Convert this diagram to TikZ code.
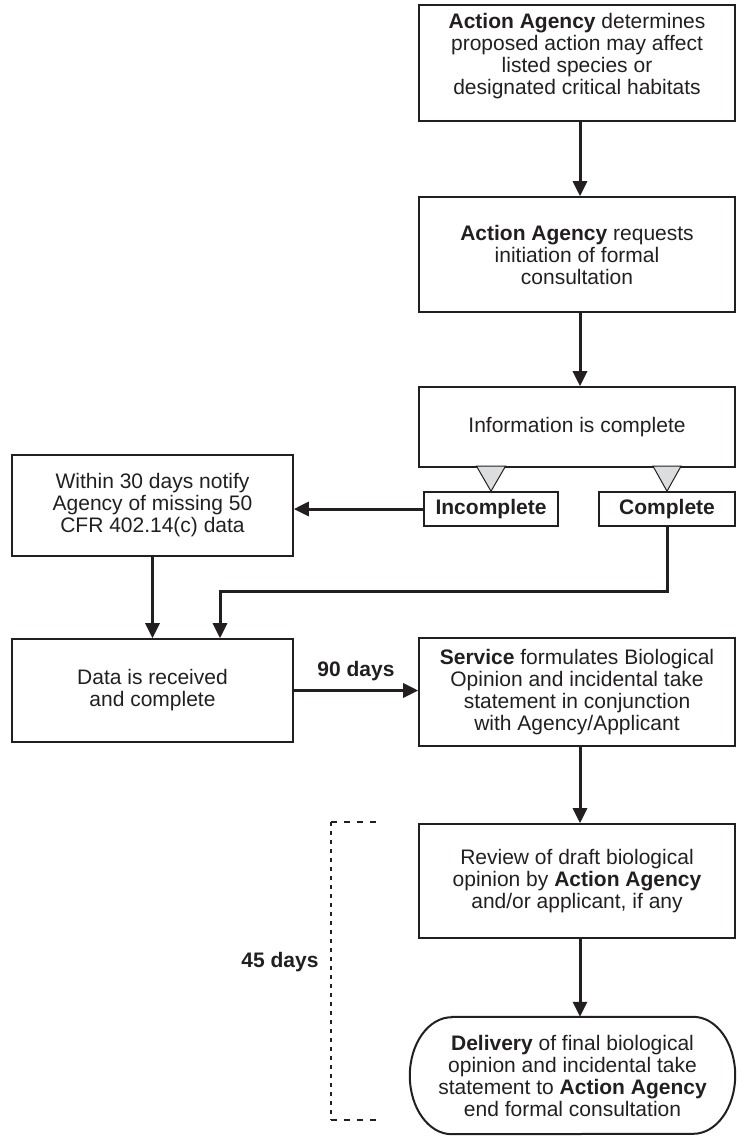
\documentclass[tikz,border=0pt]{standalone}
\usepackage{fontspec}
\setmainfont{Liberation Sans}
\usetikzlibrary{arrows.meta,calc}
\definecolor{ink}{HTML}{231F20}
\definecolor{trifill}{HTML}{DCDDDE}
\begin{document}
\begin{tikzpicture}[x=1pt,y=-1pt,
  every node/.style={text=ink, font=\fontsize{21}{22}\selectfont},
  stepbox/.style={draw=ink, line width=1.6pt, rectangle, inner sep=0pt,
    align=center, minimum width=316pt},
  sidebox/.style={stepbox, minimum width=281pt},
  tagbox/.style={draw=ink, line width=1.6pt, rectangle, inner sep=0pt,
    minimum height=34pt, font=\fontsize{21}{22}\selectfont\bfseries},
  endbox/.style={rectangle, inner sep=0pt, align=center,
    minimum width=325pt, minimum height=117pt},
  endline/.style={draw=ink, line width=2pt},
  flow/.style={draw=ink, line width=3pt, -{Triangle[width=14pt,length=15pt]}},
  trimark/.style={draw=ink, line width=1pt, fill=trifill, line join=miter},
  daytag/.style={font=\fontsize{21}{22}\selectfont\bfseries},
  timespan/.style={draw=ink, line width=2.4pt}
]
\useasboundingbox (0,0) rectangle (736,1137);

% main column
\node[stepbox, minimum height=116pt] (box1) at (577,63)
  {\textbf{Action Agency} determines\\proposed action may affect\\listed species or\\designated critical habitats\\[-4pt]};
\node[stepbox, minimum height=115pt] (box2) at (577,254.5)
  {\textbf{Action Agency} requests\\initiation of formal\\consultation};
\node[stepbox, minimum height=80pt] (box3) at (577,427)
  {Information is complete};
\node[tagbox, minimum width=134pt] (incomplete) at (491,509) {Incomplete};
\node[tagbox, minimum width=136pt] (complete) at (667,509) {Complete};

% left column
\node[sidebox, minimum height=101pt] (notify) at (152.5,505.5)
  {Within 30 days notify\\Agency of missing 50\\CFR 402.14(c) data};
\node[sidebox, minimum height=103pt] (data) at (152.5,690.5)
  {Data is received\\and complete};

% opinion stage
\node[stepbox, minimum height=108pt] (service) at (577,692)
  {\textbf{Service} formulates Biological\\Opinion and incidental take\\statement in conjunction\\with Agency/Applicant};
\node[stepbox, minimum height=114pt] (review) at (577,881)
  {Review of draft biological\\opinion by \textbf{Action Agency}\\and/or applicant, if any};
\node[endbox] (deliver) at (572.5,1075.5)
  {\textbf{Delivery} of final biological\\opinion and incidental take\\statement to \textbf{Action Agency}\\end formal consultation};
% terminal outline with elliptic ends
\draw[endline] ([xshift=42pt]deliver.north west) -- ([xshift=-42pt]deliver.north east)
  arc[start angle=90, end angle=-90, x radius=42pt, y radius=58.5pt]
  -- ([xshift=42pt]deliver.south west)
  arc[start angle=270, end angle=90, x radius=42pt, y radius=58.5pt] -- cycle;

% decision markers under the information box
\draw[trimark] (incomplete.north) -- ++(-14.5,-25) -- ++(29,0) -- cycle;
\draw[trimark] (complete.north) -- ++(-14,-25) -- ++(28,0) -- cycle;

% connectors
\draw[flow] ([xshift=3pt]box1.south) -- ([xshift=3pt]box2.north);
\draw[flow] ([xshift=3pt]box2.south) -- ([xshift=3pt]box3.north);
\draw[flow] (incomplete.west) -- (incomplete.west -| notify.east);
\draw[flow] (notify.south) -- (notify.south |- data.north);
\coordinate (bend) at (220,591);
\draw[flow] (complete.south) |- (bend) -- (bend |- data.north);
\draw[flow] (data.east) -- (data.east -| service.west)
  node[daytag, midway, above=5pt] {90 days};
\draw[flow] ([xshift=3pt]service.south) -- ([xshift=3pt]review.north);
\draw[flow] ([xshift=3pt]review.south) -- ([xshift=3pt]review.south |- deliver.north);

% 45-day span
\coordinate (spantop) at (331,822);
\coordinate (spanbot) at (331,1120);
\draw[timespan, dash pattern=on 4pt off 5pt] (spantop) -- (spanbot);
\draw[timespan, dash pattern=on 6pt off 7pt] (spantop) -- ++(50,0);
\draw[timespan, dash pattern=on 6pt off 7pt] (spanbot) -- ++(50,0);
\node[daytag, anchor=east] (span) at (322,962) {45 days};
\end{tikzpicture}
\end{document}
